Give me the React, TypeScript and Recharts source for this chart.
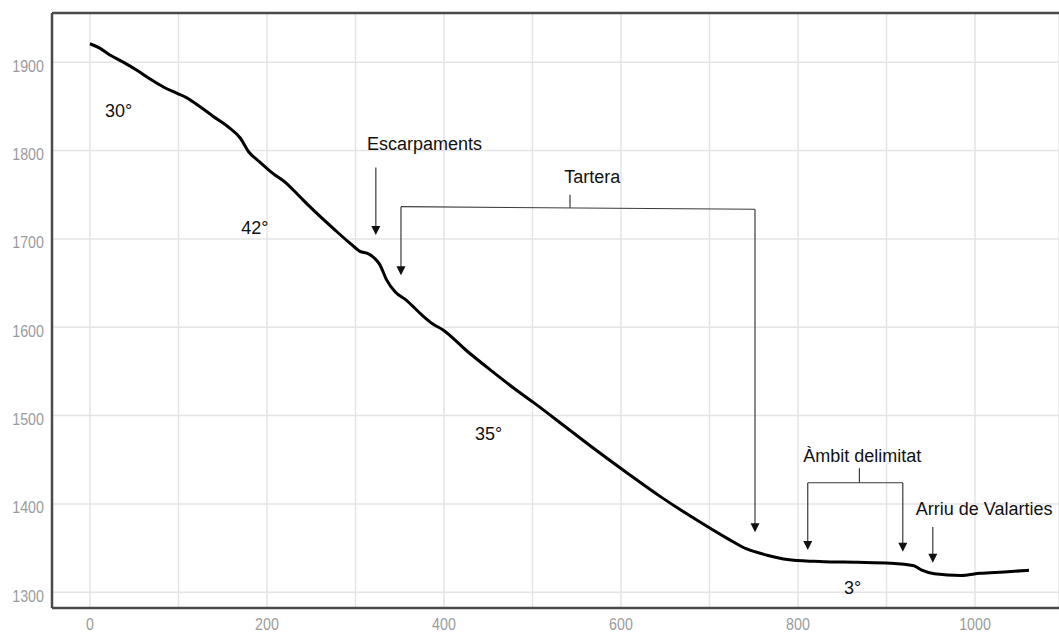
import React from 'react';
import {
  LineChart,
  Line,
  XAxis,
  YAxis,
  CartesianGrid,
  ReferenceLine,
  ReferenceDot,
} from 'recharts';

// profile: distance along the slope (m) and elevation (m)
const distance = [
  0, 11, 23, 36, 53, 68, 83, 98, 109, 124, 139, 156, 170, 179, 192, 207, 222, 237, 249,
  277, 294, 305, 315, 328, 335, 345, 357, 376, 387, 399, 425, 452, 479, 501, 539, 569,
  607, 645, 682, 720, 742, 765, 788, 818, 829, 867, 905, 931, 940, 954, 984,
  1006, 1033, 1061,
];
const elevation = [
  1921, 1916, 1908, 1901, 1891, 1881, 1872, 1865, 1860, 1850, 1839, 1827, 1814, 1799, 1787,
  1774, 1763, 1748, 1736, 1710, 1695, 1686, 1683, 1670, 1654, 1640, 1631, 1613, 1604, 1597,
  1574, 1552, 1531, 1515, 1486, 1463, 1435, 1408, 1384, 1361, 1349, 1342, 1337,
  1335, 1334.6, 1334, 1333, 1330, 1325, 1321, 1319, 1321.5, 1323, 1325,
];

const xTicks = [0, 100, 200, 300, 400, 500, 600, 700, 800, 900, 1000];
const yTicks = [1300, 1400, 1500, 1600, 1700, 1800, 1900];

// text notes: [label, x, y] (x = left edge, y = baseline, in data units)
const notes: [string, number, number][] = [
  ['30°', 17, 1838],
  ['42°', 171, 1706],
  ['35°', 435, 1472],
  ['3°', 852, 1298.6],
  ['Escarpaments', 313, 1801],
  ['Tartera', 536, 1763],
  ['Àmbit delimitat', 806, 1448],
  ['Arriu de Valarties', 933, 1387.5],
];

// arrows: [x, yFrom, yTip]
const arrows: [number, number, number][] = [
  [323, 1781, 1704.5],
  [351.4, 1736.5, 1659],
  [751.4, 1733.6, 1368],
  [811, 1424, 1348],
  [918.4, 1424, 1346],
  [952.3, 1374, 1333.5],
];

// plain lines: [x1, y1, x2, y2]
const brackets: [number, number, number, number][] = [
  [351.4, 1736.5, 751.4, 1733.6],
  [542.4, 1750, 542.4, 1735.2],
  [811, 1424, 918.4, 1424],
  [869.4, 1440.4, 869.4, 1424],
];

const xDomain = [-42.9, 1094.9];
const yDomain = [1282.2, 1955.8];

const data = distance.map((d, i) => ({ x: d, z: elevation[i] }));

const tickFont = '"Liberation Sans", Arial, sans-serif';
const noteFont = '"Liberation Sans", Arial, sans-serif';

const XTick = (props: any) => {
  const { x, y, payload } = props;
  if (payload.value % 200 !== 0) return null;
  return (
    <text
      transform={`translate(${x},${y + 20}) scale(0.84,1)`}
      textAnchor="middle"
      fill="#9b9b9b"
      fontSize={17}
      fontFamily={tickFont}
    >
      {payload.value}
    </text>
  );
};

const YTick = (props: any) => {
  const { x, y, payload } = props;
  return (
    <text
      transform={`translate(${x},${y + 9.4}) scale(0.84,1)`}
      textAnchor="end"
      fill="#9b9b9b"
      fontSize={17}
      fontFamily={tickFont}
    >
      {payload.value}
    </text>
  );
};

const arrowShape = (p: any) => (
  <g>
    <line x1={p.x1} y1={p.y1} x2={p.x2} y2={p.y2 - 8} stroke="#3a3a3a" strokeWidth={1.2} />
    <polygon
      points={`${p.x2},${p.y2} ${p.x2 - 4.5},${p.y2 - 9} ${p.x2 + 4.5},${p.y2 - 9}`}
      fill="#111"
    />
  </g>
);

export default function App() {
  return (
    <div style={{ position: 'absolute', left: 0, top: 0, background: '#fff' }}>
      <LineChart width={1059} height={632} data={data} margin={{ top: 13, right: 0, bottom: 0, left: 0 }}>
        <CartesianGrid stroke="#e4e4e4" strokeWidth={1.5} />
        <XAxis
          dataKey="x"
          type="number"
          domain={xDomain}
          allowDataOverflow
          ticks={xTicks}
          interval={0}
          height={24}
          tickSize={0}
          tickLine={false}
          tick={<XTick />}
          axisLine={{ stroke: '#4a4a4a', strokeWidth: 2.5 }}
        />
        <YAxis
          type="number"
          domain={yDomain}
          allowDataOverflow
          ticks={yTicks}
          interval={0}
          width={52}
          tickSize={0}
          tickMargin={8}
          tickLine={false}
          tick={<YTick />}
          axisLine={{ stroke: '#4a4a4a', strokeWidth: 2.5 }}
        />
        <ReferenceLine y={yDomain[1]} stroke="#4a4a4a" strokeWidth={2.5} />
        <Line
          dataKey="z"
          type="monotone"
          stroke="#000"
          strokeWidth={3}
          strokeLinejoin="round"
          dot={false}
          isAnimationActive={false}
        />
        {brackets.map(([x1, y1, x2, y2], i) => (
          <ReferenceLine
            key={'b' + i}
            segment={[{ x: x1, y: y1 }, { x: x2, y: y2 }]}
            stroke="#3a3a3a"
            strokeWidth={1.2}
          />
        ))}
        {arrows.map(([x, y1, y2], i) => (
          <ReferenceLine key={'a' + i} segment={[{ x, y: y1 }, { x, y: y2 }]} shape={arrowShape} />
        ))}
        {notes.map(([label, x, y], i) => (
          <ReferenceDot
            key={'n' + i}
            x={x}
            y={y}
            r={0}
            shape={(p: any) => (
              <text x={p.cx} y={p.cy} fill="#111" fontSize={18} fontFamily={noteFont}>
                {label}
              </text>
            )}
          />
        ))}
      </LineChart>
    </div>
  );
}
